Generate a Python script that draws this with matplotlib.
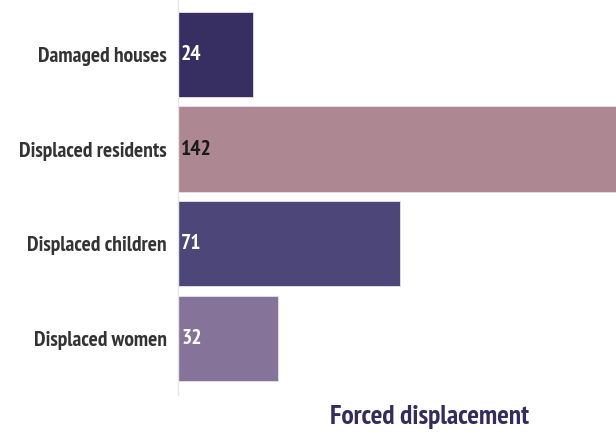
import matplotlib.pyplot as plt
import matplotlib.font_manager as fm

categories = ['Damaged houses', 'Displaced residents', 'Displaced children', 'Displaced women']
values = [24, 142, 71, 32]
colors = ['#372f62', '#ad8792', '#4d4779', '#857399']
value_colors = ['white', '#1a1a1a', 'white', 'white']

# prefer a narrow bold face, like the original
names = {f.name for f in fm.fontManager.ttflist}
narrow = [f.name for f in fm.fontManager.ttflist
          if f.stretch in ('condensed', 'semi-condensed', 'extra-condensed', 'ultra-condensed')]
pick = None
for n in ['PT Sans Narrow', 'Roboto Condensed', 'Liberation Sans Narrow', 'Open Sans Condensed',
          'Noto Sans Condensed', 'DejaVu Sans Condensed']:
    if n in names:
        pick = n
        break
if pick is None and narrow:
    pick = narrow[0]
if pick is None:
    pick = 'Roboto' if 'Roboto' in names else 'DejaVu Sans'
plt.rcParams['font.family'] = [pick, 'DejaVu Sans']
stretch = 'condensed' if pick in narrow or 'Condensed' in pick else 'normal'

fig = plt.figure(figsize=(6.16, 4.37), dpi=100)
ax = fig.add_axes([178 / 616, 42 / 437, 438 / 616, 395 / 437])

# size labels so the longest one is as wide as in the reference (~150 px)
probe = fig.text(0, 0, 'Displaced residents', fontsize=13, fontweight='bold', fontstretch=stretch)
w = probe.get_window_extent(fig.canvas.get_renderer()).width
probe.remove()
lab_size = min(15.5, 13 * 150 / w)

y = list(range(len(categories)))
ax.barh(y, values, height=0.9, color=colors, edgecolor='#e8e0ea', linewidth=0.6)
ax.set_xlim(0, 140)
ax.set_ylim(3.6, -0.575)

for i, v in enumerate(values):
    ax.text(1, i, str(v), va='center', ha='left', fontsize=lab_size, fontweight='bold',
            fontstretch=stretch, color=value_colors[i])

ax.set_yticks(y)
ax.set_yticklabels(categories, fontsize=lab_size, fontweight='bold', fontstretch=stretch,
                   color='#333333')
ax.tick_params(axis='y', length=0, pad=8)
ax.set_xticks([])
for s in ['top', 'right', 'bottom']:
    ax.spines[s].set_visible(False)
ax.spines['left'].set_color('#e6e6e6')
ax.spines['left'].set_linewidth(1)

fig.text(430 / 616, 1 - 417 / 437, 'Forced displacement', ha='center', va='center',
         fontsize=lab_size * 1.27, fontweight='bold', fontstretch=stretch, color='#352c5e')

fig.savefig('out.png', dpi=100)
